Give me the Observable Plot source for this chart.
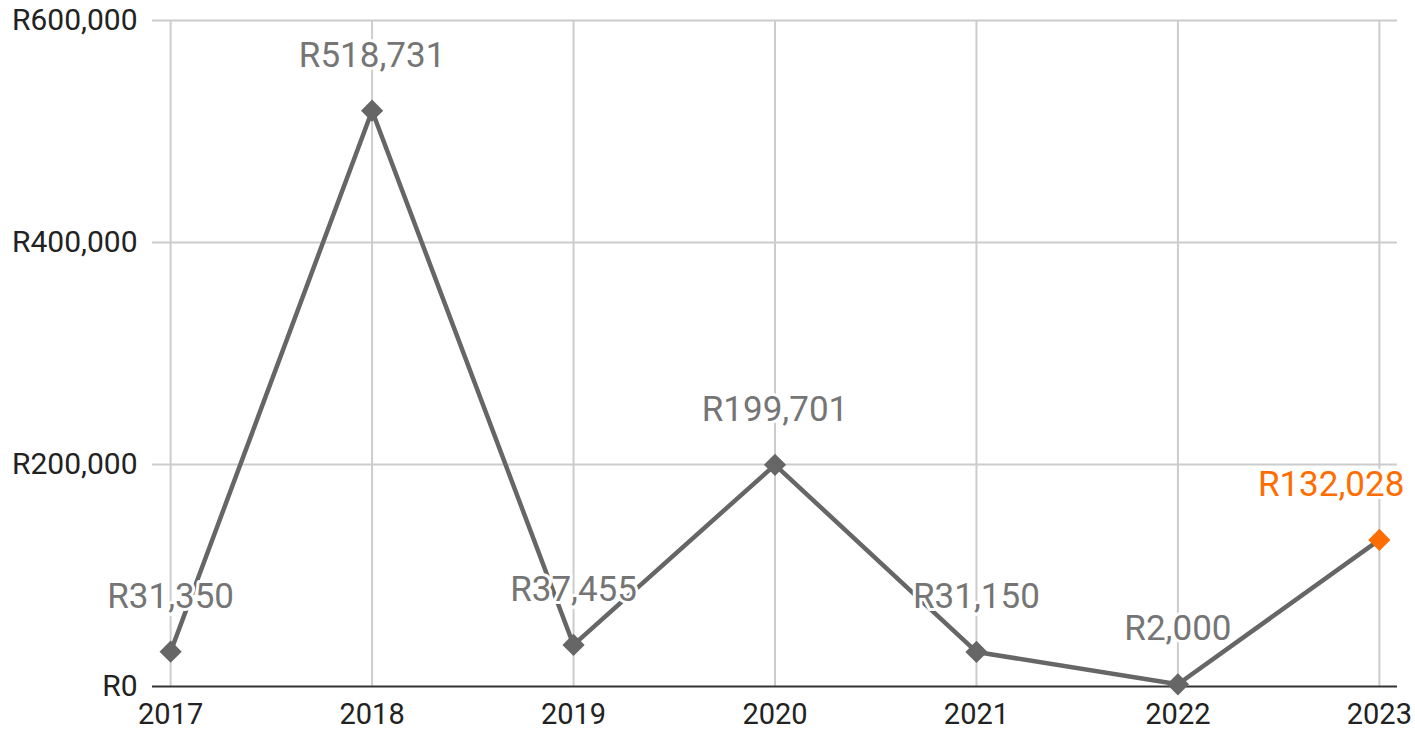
<!DOCTYPE html>
<html>
<head>
<meta charset="utf-8">
<script src="https://cdn.jsdelivr.net/npm/d3@7"></script>
<script src="https://cdn.jsdelivr.net/npm/@observablehq/plot@0.6"></script>
<style>
  html, body { margin: 0; padding: 0; background: #fff; }
  #chart { width: 1415px; height: 732px; }
</style>
</head>
<body>
<div id="chart"></div>
<script>
// Yearly amounts in rand
const years = [2017, 2018, 2019, 2020, 2021, 2022, 2023];
const amounts = [31350, 518731, 37455, 199701, 31150, 2000, 132028];
const yTicks = [0, 200000, 400000, 600000];
const highlightYear = 2023;

const data = years.map((year, i) => ({year, amount: amounts[i], hi: year === highlightYear}));
const regular = data.filter(d => !d.hi);
const highlight = data.filter(d => d.hi);
const rand = d => "R" + d3.format(",")(d);

const chart = Plot.plot({
  width: 1415,
  height: 732,
  marginTop: 20,
  marginBottom: 46,
  marginLeft: 152,
  marginRight: 18,
  style: {fontFamily: "Roboto, sans-serif", background: "#fff"},
  x: {domain: [2016.91, 2023.09], axis: null, label: null},
  y: {domain: [0, 600000], axis: null, label: null},
  marks: [
    Plot.gridY(yTicks.filter(d => d > 0), {stroke: "#cccccc", strokeOpacity: 1, strokeWidth: 2}),
    Plot.ruleX(years, {y1: 0, y2: 600000, stroke: "#cccccc", strokeWidth: 2}),
    Plot.ruleY([0], {stroke: "#333333", strokeWidth: 2}),
    Plot.axisY(yTicks, {tickSize: 0, tickPadding: 15, tickFormat: rand, fontSize: 30, fill: "#222", anchor: "left", label: null}),
    Plot.axisX(years, {tickSize: 0, tickPadding: 17, tickFormat: d => String(d), fontSize: 29, fill: "#222", anchor: "bottom", label: null}),
    Plot.line(data, {x: "year", y: "amount", stroke: "#666666", strokeWidth: 4.5}),
    Plot.dot(data, {x: "year", y: "amount", symbol: "diamond2", r: 10, fill: d => d.hi ? "#ff6d00" : "#666666", stroke: "none"}),
    Plot.text(regular, {
      x: "year", y: "amount", text: d => rand(d.amount), dy: -55,
      fontSize: 35, fill: "#757575",
      stroke: "#ffffff", strokeWidth: 6
    }),
    // the last label is pulled inside the right edge
    Plot.text(highlight, {
      x: "year", y: "amount", text: d => rand(d.amount), dy: -55, dx: 25,
      textAnchor: "end", fontSize: 35, fill: "#ff6d00",
      stroke: "#ffffff", strokeWidth: 6
    })
  ]
});

document.getElementById("chart").appendChild(chart);
</script>
</body>
</html>
